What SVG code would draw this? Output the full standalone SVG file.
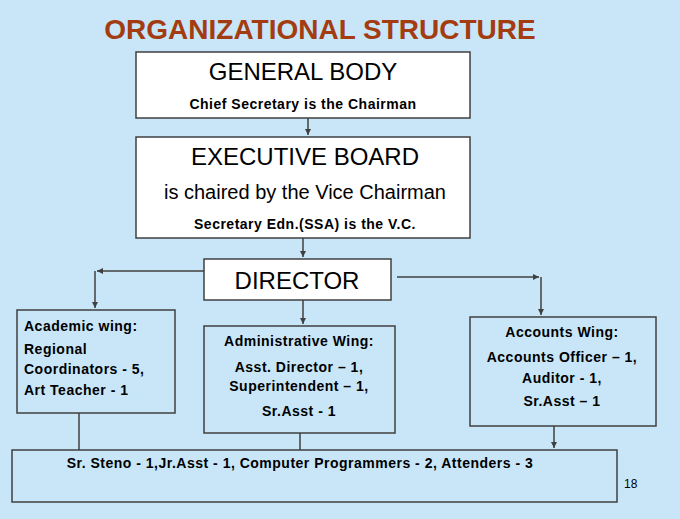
<svg xmlns="http://www.w3.org/2000/svg" width="680" height="519" viewBox="0 0 680 519">
<style>
.bx{fill:#c8e6f8;stroke:#404040;stroke-width:1.5}
.wb{fill:#ffffff;stroke:#404040;stroke-width:1.5}
.c{stroke:#404040;stroke-width:1.5;fill:none}
text{font-family:"Liberation Sans",Arial,sans-serif;fill:#000}
.b{font-weight:bold;font-size:14px;letter-spacing:0.5px}
.L{font-size:24px}
</style>
<defs><marker id="a" markerWidth="8" markerHeight="8" refX="6" refY="4" orient="auto" markerUnits="userSpaceOnUse"><path d="M0,1 L6,4 L0,7 Z" fill="#404040"/></marker></defs>
<rect width="680" height="519" fill="#c8e6f8"/>
<text x="320" y="39" text-anchor="middle" style="font-size:28px;font-weight:bold;fill:#a33c10">ORGANIZATIONAL STRUCTURE</text>
<g id="connectors">
<path class="c" d="M308,118 V135" marker-end="url(#a)"/>
<path class="c" d="M303,238 V257" marker-end="url(#a)"/>
<path class="c" d="M303,300 V324" marker-end="url(#a)"/>
<path class="c" d="M204,271 H97" marker-end="url(#a)"/>
<path class="c" d="M95,271 V308" marker-end="url(#a)"/>
<path class="c" d="M397,277 H539" marker-end="url(#a)"/>
<path class="c" d="M541,277 V315" marker-end="url(#a)"/>
<path class="c" d="M79,413 V450"/>
<path class="c" d="M300,433 V450"/>
<path class="c" d="M554,426 V448" marker-end="url(#a)"/>
</g>
<g id="general-body"><rect class="wb" x="136" y="52" width="334" height="66"/>
<text x="303" y="80" text-anchor="middle" class="L">GENERAL BODY</text>
<text x="303" y="109" text-anchor="middle" class="b">Chief Secretary is the Chairman</text></g>
<g id="executive-board"><rect class="wb" x="136" y="137" width="334" height="101"/>
<text x="305" y="165" text-anchor="middle" class="L">EXECUTIVE BOARD</text>
<text x="305" y="199" text-anchor="middle" style="font-size:20px">is chaired by the Vice Chairman</text>
<text x="305" y="229" text-anchor="middle" class="b">Secretary Edn.(SSA) is the V.C.</text></g>
<g id="director"><rect class="wb" x="204" y="259" width="187" height="41"/>
<text x="297" y="289" text-anchor="middle" class="L">DIRECTOR</text></g>
<g id="academic"><rect class="bx" x="17" y="310" width="158" height="103"/>
<text x="24" y="331" class="b">Academic wing:</text>
<text x="24" y="354" class="b">Regional</text>
<text x="24" y="374" class="b">Coordinators - 5,</text>
<text x="24" y="395" class="b">Art Teacher - 1</text></g>
<g id="administrative"><rect class="bx" x="204" y="326" width="191" height="107"/>
<text x="299" y="346" text-anchor="middle" class="b">Administrative Wing:</text>
<text x="299" y="372" text-anchor="middle" class="b">Asst. Director – 1,</text>
<text x="299" y="391" text-anchor="middle" class="b">Superintendent – 1,</text>
<text x="299" y="416" text-anchor="middle" class="b">Sr.Asst - 1</text></g>
<g id="accounts"><rect class="bx" x="470" y="317" width="186" height="109"/>
<text x="562" y="337" text-anchor="middle" class="b">Accounts Wing:</text>
<text x="562" y="362" text-anchor="middle" class="b">Accounts Officer – 1,</text>
<text x="562" y="383" text-anchor="middle" class="b">Auditor - 1,</text>
<text x="562" y="406" text-anchor="middle" class="b">Sr.Asst – 1</text></g>
<g id="staff"><rect class="bx" x="12" y="450" width="605" height="52"/>
<text x="300" y="468" text-anchor="middle" class="b">Sr. Steno - 1,Jr.Asst - 1, Computer Programmers -  2, Attenders - 3</text></g>
<text x="624" y="488" style="font-size:12px">18</text>
</svg>
